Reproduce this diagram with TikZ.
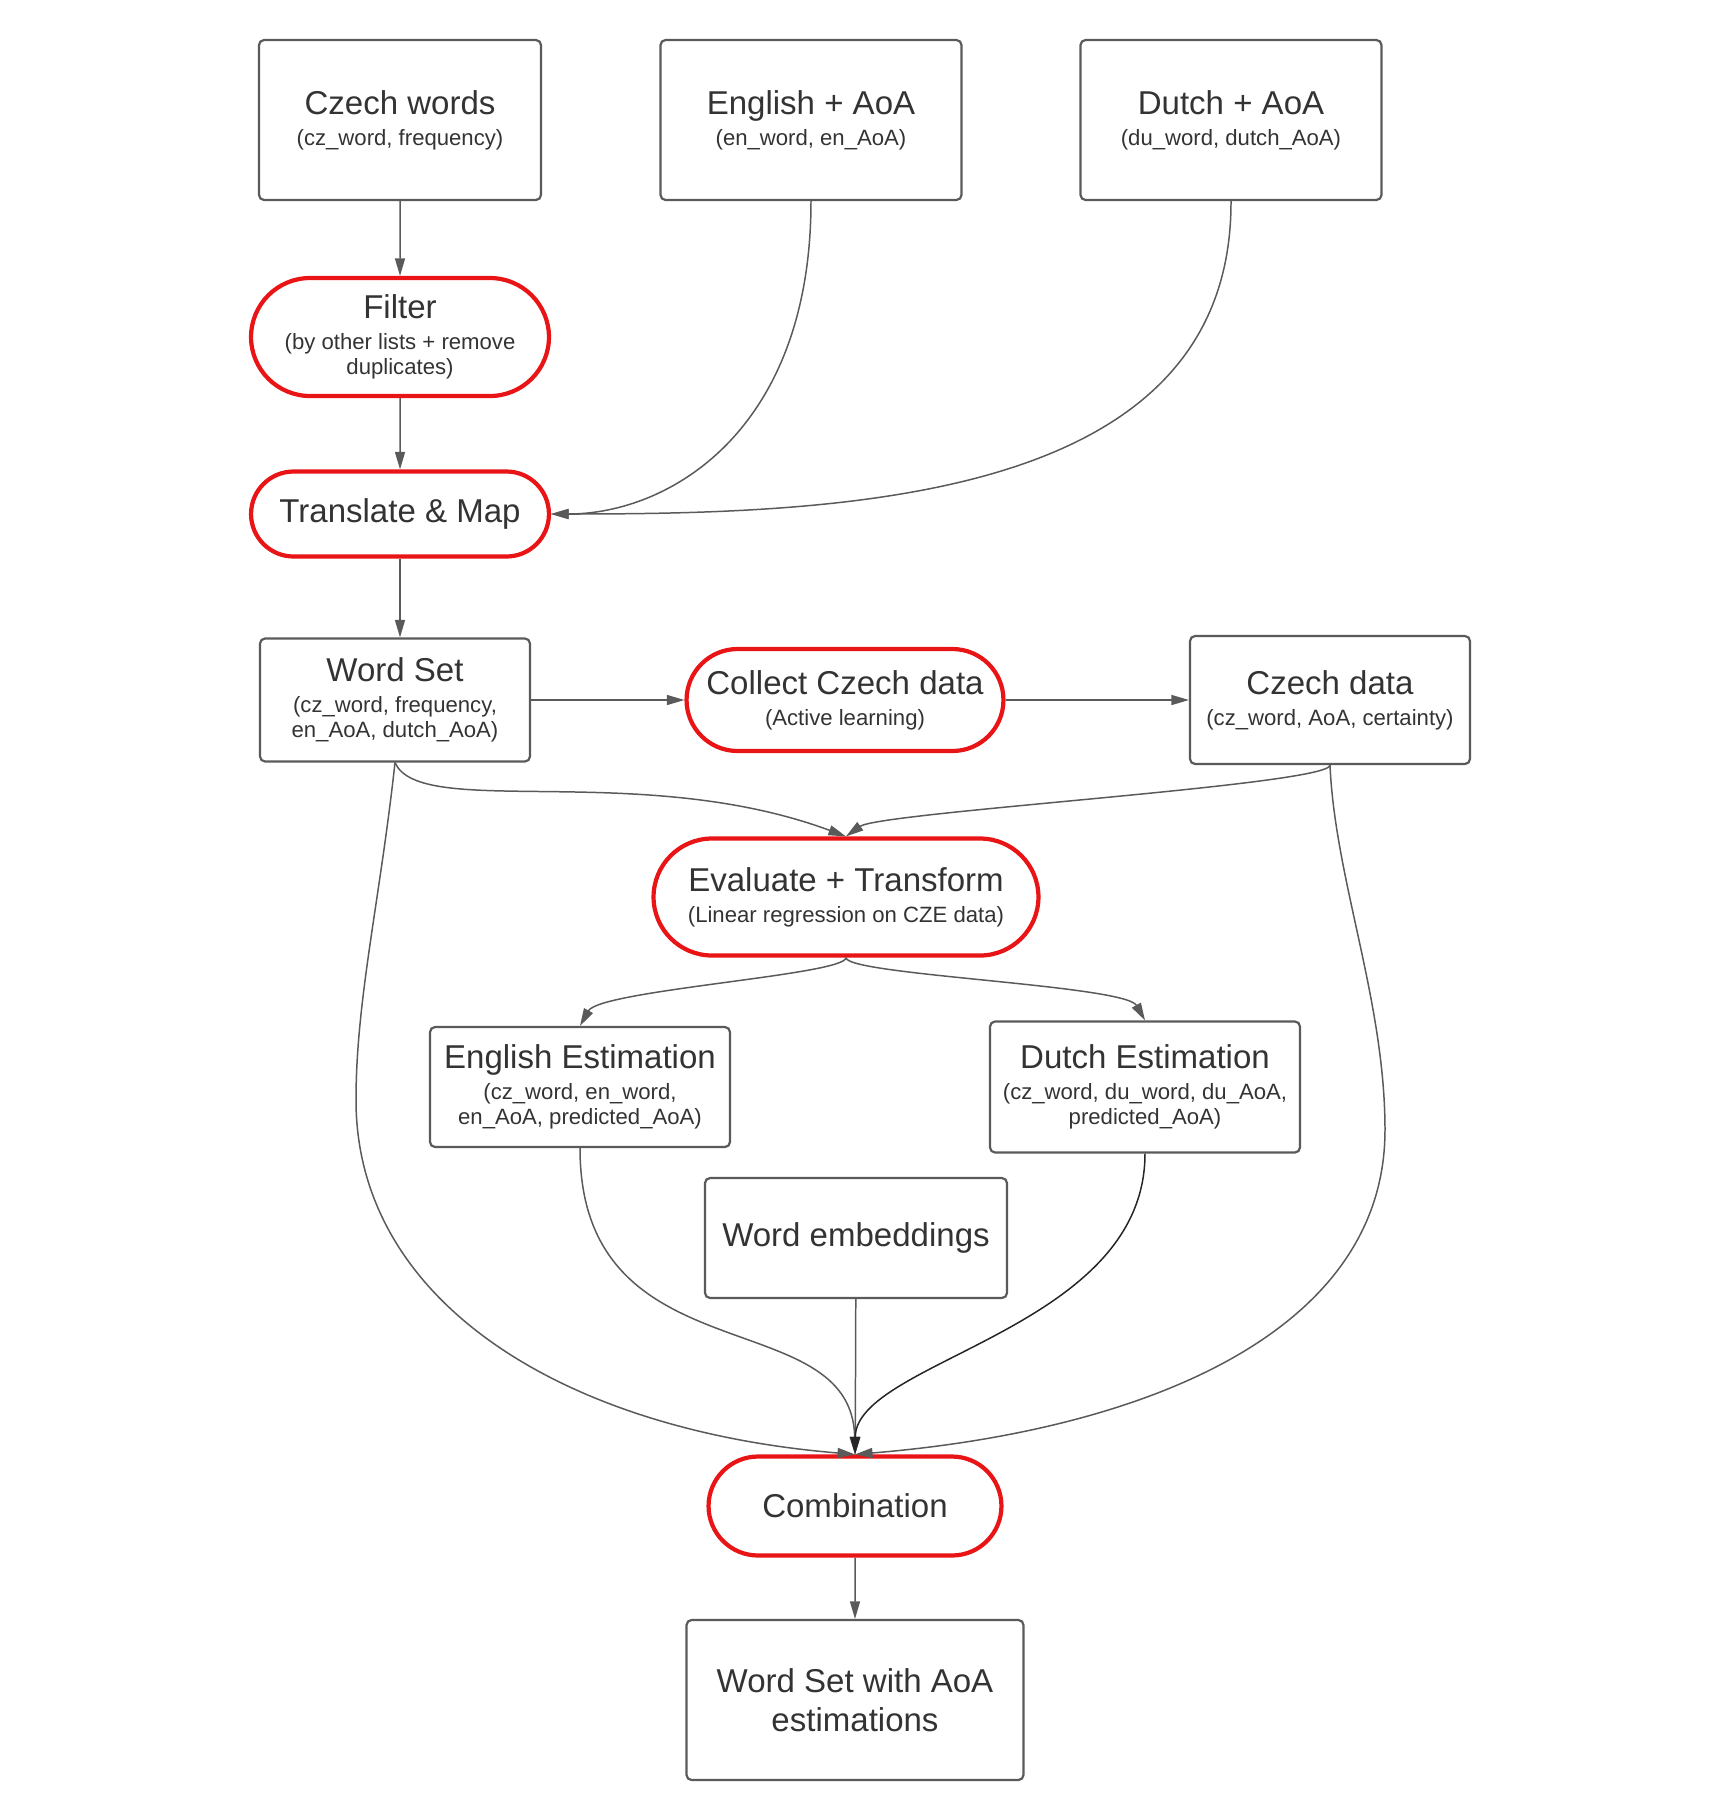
\documentclass[tikz,border=0pt]{standalone}
\usepackage{fontspec}
\setmainfont{Liberation Sans}
\usetikzlibrary{shapes.misc, arrows.meta, positioning}
\definecolor{linegray}{HTML}{5A5A5A}
\definecolor{textgray}{HTML}{333333}
\definecolor{stepred}{HTML}{E81416}
\definecolor{darkline}{HTML}{262626}
\newcommand{\titlefont}{\fontsize{18.8}{22}\selectfont}
\newcommand{\subfont}{\fontsize{12.6}{14.2}\selectfont}
\tikzset{
  databox/.style={draw=linegray, line width=1.25pt, rounded corners=0.1cm, align=center, font=\subfont, text=textgray, inner sep=2pt},
  processnode/.style={draw=stepred, line width=2.4pt, rounded rectangle, align=center, font=\subfont, text=textgray, inner sep=2pt},
  arrow/.style={-{Triangle[length=10pt, width=5.7pt]}, draw=linegray, line width=0.85pt},
  darkarrow/.style={arrow, draw=darkline}
}

\begin{document}
\begin{tikzpicture}[x=0.02cm, y=-0.02cm]
\useasboundingbox (0,0) rectangle (1719,1820);

% Sources
\node[databox, minimum width=5.64cm, minimum height=3.2cm] (czwords) at (400,120) {{\titlefont Czech words}\\[3.4pt](cz\_word, frequency)};
\node[databox, minimum width=6.02cm, minimum height=3.2cm] (english) at (811,120) {{\titlefont English + AoA}\\[3.4pt](en\_word, en\_AoA)};
\node[databox, minimum width=6.02cm, minimum height=3.2cm] (dutch) at (1231,120) {{\titlefont Dutch + AoA}\\[3.4pt](du\_word, dutch\_AoA)};

% Preparation
\node[processnode, minimum width=6.1cm, minimum height=2.36cm] (filter) at (400,337) {{\titlefont Filter}\\[3.4pt](by other lists + remove\\duplicates)};
\node[processnode, minimum width=6.1cm, minimum height=1.7cm, font=\titlefont] (translate) at (400,514) {Translate \& Map};
\node[databox, minimum width=5.4cm, minimum height=2.46cm] (wordset) at (395,700) {{\titlefont Word Set}\\[3.4pt](cz\_word, frequency,\\en\_AoA, dutch\_AoA)};
\node[processnode, minimum width=6.48cm, minimum height=2.04cm] (collect) at (845,700) {{\titlefont Collect Czech data}\\[3.4pt](Active learning)};
\node[databox, minimum width=5.6cm, minimum height=2.56cm] (czdata) at (1330,700) {{\titlefont Czech data}\\[3.4pt](cz\_word, AoA, certainty)};

% Estimation
\node[processnode, minimum width=7.84cm, minimum height=2.34cm] (evaluate) at (846,897) {{\titlefont Evaluate + Transform}\\[3.4pt](Linear regression on CZE data)};
\node[databox, minimum width=6cm, minimum height=2.4cm] (enest) at (580,1087) {{\titlefont English Estimation}\\[3.4pt](cz\_word, en\_word,\\en\_AoA, predicted\_AoA)};
\node[databox, minimum width=6.2cm, minimum height=2.62cm] (duest) at (1145,1087) {{\titlefont Dutch Estimation}\\[3.4pt](cz\_word, du\_word, du\_AoA,\\predicted\_AoA)};
\node[databox, minimum width=6.04cm, minimum height=2.4cm, font=\titlefont] (embeddings) at (856,1238) {Word embeddings};

% Result
\node[processnode, minimum width=6cm, minimum height=1.98cm, font=\titlefont] (combination) at (855,1506) {Combination};
\node[databox, minimum width=6.74cm, minimum height=3.2cm, font=\titlefont] (final) at (855,1700) {Word Set with AoA\\estimations};

% Edges
\draw[arrow] (czwords) -- (filter);
\draw[arrow] (filter) -- (translate);
\draw[arrow] (translate.south) -- (translate.south |- wordset.north);
\draw[arrow] (english.south) .. controls (811,430) and (670,514) .. (translate.east);
\draw[arrow] (dutch.south) .. controls (1232,500) and (850,514) .. (translate.east);
\draw[arrow] (wordset.east) -- (wordset.east -| collect.west);
\draw[arrow] (collect.east) -- (collect.east -| czdata.west);
\draw[arrow] (wordset.south) .. controls (420,820) and (640,760) .. (evaluate.north);
\draw[arrow] (czdata.south) .. controls (1330,785) and (880,812) .. (evaluate.north);
\draw[arrow] (evaluate.south) .. controls (846,975) and (600,990) .. (enest.north);
\draw[arrow] (evaluate.south) .. controls (846,975) and (1125,985) .. (duest.north);
\draw[arrow] (wordset.south) .. controls (380,900) and (356,1000) .. (356,1100) .. controls (356,1300) and (560,1430) .. (combination.north);
\draw[arrow] (czdata.south) .. controls (1335,880) and (1385,1000) .. (1385,1130) .. controls (1385,1330) and (1150,1430) .. (combination.north);
\draw[arrow] (enest.south) .. controls (580,1380) and (852,1300) .. (combination.north);
\draw[arrow] (embeddings) -- (combination);
\draw[darkarrow] (duest.south) .. controls (1145,1330) and (856,1360) .. (combination.north);
\draw[arrow] (combination) -- (final);

\end{tikzpicture}
\end{document}
